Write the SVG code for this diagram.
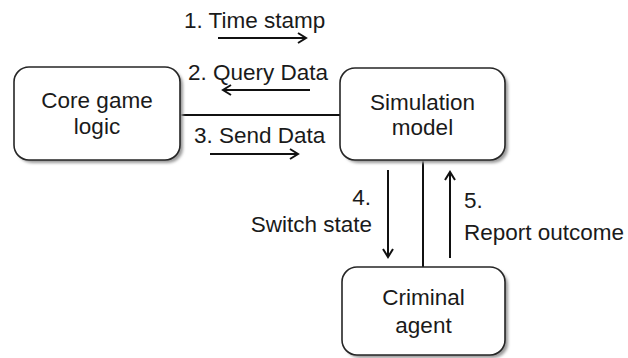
<svg xmlns="http://www.w3.org/2000/svg" width="628" height="358" viewBox="0 0 628 358">
<style>
.box{fill:#fff;stroke:#262626;stroke-width:1.6}
.shadow{fill:#9a9a9a;filter:url(#blur)}
.lbl{font-family:"Liberation Sans",Arial,sans-serif;font-size:22.5px;fill:#1a1a1a}
.mid{text-anchor:middle}
.end{text-anchor:end}
.line{stroke:#111;stroke-width:2;fill:none}
.arr{stroke:#111;stroke-width:2;fill:none;marker-end:url(#head)}
</style>
<defs>
<filter id="blur" x="-10%" y="-10%" width="120%" height="120%"><feGaussianBlur stdDeviation="1.5"/></filter>
<marker id="head" viewBox="0 0 12 12" refX="10" refY="6" markerWidth="12" markerHeight="12" markerUnits="userSpaceOnUse" orient="auto">
<path d="M2,1 L10,6 L2,11" fill="none" stroke="#111" stroke-width="2"/>
</marker>
</defs>
<g id="connectors">
<line class="line" x1="180" y1="115" x2="340" y2="115"/>
<line class="line" x1="423" y1="160" x2="423" y2="267"/>
<line class="arr" x1="218" y1="38" x2="306" y2="38"/>
<line class="arr" x1="310" y1="90" x2="223" y2="90"/>
<line class="arr" x1="210" y1="154" x2="298" y2="154"/>
<line class="arr" x1="388" y1="170" x2="388" y2="257"/>
<line class="arr" x1="450" y1="258" x2="450" y2="172"/>
<text class="lbl" x="184" y="28">1. Time stamp</text>
<text class="lbl" x="188" y="80">2. Query Data</text>
<text class="lbl" x="194" y="143">3. Send Data</text>
<text class="lbl end" x="371" y="205">4.</text>
<text class="lbl end" x="372" y="232">Switch state</text>
<text class="lbl" x="464" y="208">5.</text>
<text class="lbl" x="464" y="240">Report outcome</text>
</g>
<g id="core">
<rect class="shadow" x="17" y="70" width="166" height="93" rx="15"/>
<rect class="box" x="14" y="67" width="166" height="93" rx="15"/>
<text class="lbl mid" x="97" y="108">Core game</text>
<text class="lbl mid" x="97" y="134">logic</text>
</g>
<g id="simulation">
<rect class="shadow" x="343" y="71" width="165" height="92" rx="15"/>
<rect class="box" x="340" y="68" width="165" height="92" rx="15"/>
<text class="lbl mid" x="422.5" y="110">Simulation</text>
<text class="lbl mid" x="422.5" y="135">model</text>
</g>
<g id="criminal">
<rect class="shadow" x="345" y="270" width="163" height="88" rx="15"/>
<rect class="box" x="342" y="267" width="163" height="88" rx="15"/>
<text class="lbl mid" x="423.5" y="305">Criminal</text>
<text class="lbl mid" x="423.5" y="333">agent</text>
</g>
</svg>
